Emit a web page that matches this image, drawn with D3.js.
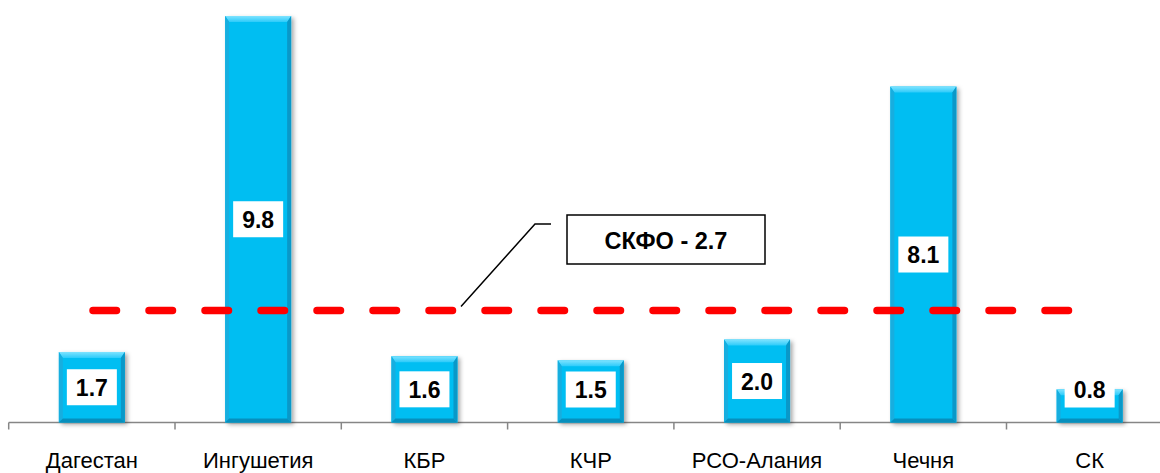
<!DOCTYPE html>
<html>
<head>
<meta charset="utf-8">
<script src="https://cdn.jsdelivr.net/npm/d3@7"></script>
<style>
  html, body { margin: 0; padding: 0; background: #fff; }
  svg { display: block; font-family: Arial, "Liberation Sans", sans-serif; }
</style>
</head>
<body>
<svg id="chart" width="1160" height="473"></svg>
<script>
const categories = ["Дагестан", "Ингушетия", "КБР", "КЧР", "РСО-Алания", "Чечня", "СК"];
const values = [1.7, 9.8, 1.6, 1.5, 2.0, 8.1, 0.8];
const averageLabel = "СКФО";
const averageValue = 2.7;

const W = 1160, H = 473;
const svg = d3.select("#chart");

const x = d3.scaleBand().domain(categories).range([8.7, 8.7 + 166.3 * 7]).paddingInner(0).paddingOuter(0);
const y = d3.scaleLinear().domain([0, 10]).range([422.5, 7.7]);

const defs = svg.append("defs");
const f = defs.append("filter").attr("id", "shadow").attr("x", "-20%").attr("y", "-5%").attr("width", "150%").attr("height", "120%");
f.append("feDropShadow").attr("dx", 2.5).attr("dy", 2).attr("stdDeviation", 2).attr("flood-color", "#000").attr("flood-opacity", 0.35);
const tg = defs.append("linearGradient").attr("id", "topBevel").attr("x1", 0).attr("y1", 0).attr("x2", 0).attr("y2", 1);
tg.append("stop").attr("offset", "0%").attr("stop-color", "#7FE3FF");
tg.append("stop").attr("offset", "100%").attr("stop-color", "#2CCBFA");

// axis
const axisG = svg.append("g").attr("transform", `translate(0,${y(0)})`);
axisG.append("line").attr("x1", x.range()[0]).attr("x2", x.range()[1]).attr("stroke", "#868686").attr("stroke-width", 1.5);
const tickXs = categories.map(c => x(c)).concat([x.range()[1]]);
axisG.selectAll("line.tick").data(tickXs).join("line").attr("class", "tick")
  .attr("x1", d => d).attr("x2", d => d).attr("y1", 0).attr("y2", 7)
  .attr("stroke", "#868686").attr("stroke-width", 1.5);
svg.append("g").selectAll("text").data(categories).join("text")
  .attr("x", d => x(d) + x.bandwidth() / 2).attr("y", 468)
  .attr("text-anchor", "middle").attr("font-size", 22).attr("fill", "#000")
  .text(d => d);

// bars
const barW = 66;
const bars = svg.append("g").selectAll("g.bar").data(categories.map((c, i) => ({c, v: values[i]}))).join("g").attr("class", "bar");
bars.each(function(d) {
  const g = d3.select(this);
  const cx = x(d.c) + x.bandwidth() / 2;
  const x0 = cx - barW / 2, x1 = cx + barW / 2;
  const yt = y(d.v), yb = y(0);
  const bt = 6, bs = 4, bb = 4;
  g.append("rect").attr("x", x0).attr("y", yt).attr("width", barW).attr("height", yb - yt)
    .attr("fill", "#00BEF2").attr("filter", "url(#shadow)");
  g.append("polygon").attr("points", [[x0, yt], [x1, yt], [x1 - bs, yt + bt], [x0 + bs, yt + bt]].map(p => p.join(",")).join(" "))
    .attr("fill", "url(#topBevel)");
  g.append("polygon").attr("points", [[x0, yt], [x0 + bs, yt + bt], [x0 + bs, yb - bb], [x0, yb]].map(p => p.join(",")).join(" "))
    .attr("fill", "#17AEDF");
  g.append("polygon").attr("points", [[x1, yt], [x1 - bs, yt + bt], [x1 - bs, yb - bb], [x1, yb]].map(p => p.join(",")).join(" "))
    .attr("fill", "#0A98C8");
  g.append("polygon").attr("points", [[x0, yb], [x0 + bs, yb - bb], [x1 - bs, yb - bb], [x1, yb]].map(p => p.join(",")).join(" "))
    .attr("fill", "#078FBD");
});

// value labels
const lbl = svg.append("g").selectAll("g").data(categories.map((c, i) => ({c, v: values[i]}))).join("g");
lbl.each(function(d) {
  const g = d3.select(this);
  const cx = x(d.c) + x.bandwidth() / 2;
  const cy = Math.min((y(d.v) + y(0)) / 2, y(0) - 33);
  g.append("rect").attr("x", cx - 25).attr("y", cy - 18).attr("width", 50).attr("height", 36).attr("fill", "#fff");
  g.append("text").attr("x", cx).attr("y", cy + 8.5).attr("text-anchor", "middle")
    .attr("font-size", 23).attr("font-weight", "bold").attr("fill", "#000").text(d.v.toFixed(1));
});

// average dashed line
const ya = y(averageValue);
svg.append("line").attr("x1", 93).attr("x2", 1069).attr("y1", ya).attr("y2", ya)
  .attr("stroke", "#FF0000").attr("stroke-width", 7.5).attr("stroke-linecap", "round")
  .attr("stroke-dasharray", "23.5 32.5");

// callout
svg.append("polyline").attr("points", `461,${ya - 4} 535,224 551,224`)
  .attr("fill", "none").attr("stroke", "#000").attr("stroke-width", 1.5);
svg.append("rect").attr("x", 567).attr("y", 215).attr("width", 198).attr("height", 49)
  .attr("fill", "#fff").attr("stroke", "#000").attr("stroke-width", 1.5);
svg.append("text").attr("x", 666).attr("y", 249).attr("text-anchor", "middle")
  .attr("font-size", 23.5).attr("font-weight", "bold").attr("fill", "#000")
  .text(`${averageLabel} - ${averageValue.toFixed(1)}`);
</script>
</body>
</html>
